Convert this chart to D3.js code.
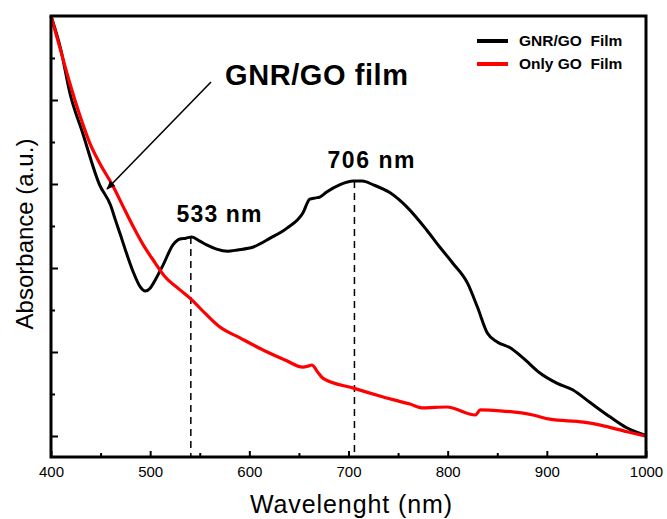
<!DOCTYPE html>
<html>
<head>
<meta charset="utf-8">
<script src="https://cdn.jsdelivr.net/npm/d3@7"></script>
<style>
  body { margin: 0; background: #fff; }
  svg { display: block; font-family: Arial, "Liberation Sans", sans-serif; }
</style>
</head>
<body>
<svg id="chart" width="667" height="519"></svg>
<script>
// Wavelength (nm) and absorbance (a.u.)
const gnrWavelength = [400,410,419,432,449,460,465,470,475,483,490,495,500,505,513,523,530,536,542,550,557,567,578,588,604,621,638,654,661,667,671,678,691,705,714,725,742,759,779,792,805,820,830,840,850,863,876,893,910,926,944,964,981,999];
const gnrAbs = [1.100,1.019,0.917,0.821,0.698,0.650,0.614,0.579,0.543,0.490,0.455,0.445,0.452,0.471,0.507,0.555,0.569,0.571,0.574,0.564,0.555,0.545,0.540,0.543,0.550,0.571,0.595,0.631,0.664,0.667,0.669,0.681,0.698,0.707,0.707,0.698,0.679,0.645,0.590,0.550,0.512,0.464,0.407,0.345,0.324,0.310,0.286,0.250,0.226,0.210,0.179,0.145,0.119,0.102];

const goWavelength = [400,409,419,429,439,449,463,473,483,493,503,515,530,542,555,570,591,618,636,654,660,663,669,674,705,735,762,775,799,828,833,853,886,903,937,954,981,999];
const goAbs = [1.100,1.024,0.940,0.864,0.798,0.750,0.693,0.645,0.598,0.555,0.519,0.479,0.448,0.424,0.393,0.360,0.333,0.300,0.281,0.264,0.267,0.269,0.252,0.238,0.214,0.193,0.176,0.167,0.169,0.150,0.162,0.160,0.150,0.140,0.133,0.126,0.110,0.100];

const xTicks = [400,500,600,700,800,900,1000];
const xMinorTicks = [450,550,650,750,850,950];
const yMajorTicks = [0.1,0.3,0.5,0.7,0.9];
const yMinorTicks = [0.2,0.4,0.6,0.8,1.0];

const peakWavelengths = [541, 706];
const peakAbs = [0.574, 0.707];
const peakLabels = ["533 nm", "706 nm"];

const seriesNames = ["GNR/GO  Film", "Only GO  Film"];
const seriesColors = ["#000000", "#ff0000"];

const svg = d3.select("#chart");
const L = 51, R = 646, T = 16, B = 457;
const x = d3.scaleLinear().domain([400, 1000]).range([L, R]);
const y = d3.scaleLinear().domain([0.05, 1.10]).range([B, T]);

// Axes (inward ticks)
const xMajor = svg.append("g").attr("transform", `translate(0,${B})`)
  .call(d3.axisBottom(x).tickValues(xTicks).tickSize(-6).tickPadding(9).tickFormat(d3.format("d")));
xMajor.select(".domain").remove();
xMajor.selectAll(".tick line").attr("stroke", "#000").attr("stroke-width", 2);
xMajor.selectAll(".tick text").attr("font-size", 15).attr("font-family", "Arial, 'Liberation Sans', sans-serif").attr("fill", "#000");

const xMin = svg.append("g").attr("transform", `translate(0,${B})`)
  .call(d3.axisBottom(x).tickValues(xMinorTicks).tickSize(-4).tickFormat(""));
xMin.select(".domain").remove();
xMin.selectAll(".tick line").attr("stroke", "#000").attr("stroke-width", 2);

const yMaj = svg.append("g").attr("transform", `translate(${L},0)`)
  .call(d3.axisLeft(y).tickValues(yMajorTicks).tickSize(-7).tickFormat(""));
yMaj.select(".domain").remove();
yMaj.selectAll(".tick line").attr("stroke", "#000").attr("stroke-width", 2);

const yMin = svg.append("g").attr("transform", `translate(${L},0)`)
  .call(d3.axisLeft(y).tickValues(yMinorTicks).tickSize(-4).tickFormat(""));
yMin.select(".domain").remove();
yMin.selectAll(".tick line").attr("stroke", "#000").attr("stroke-width", 2);

// Dashed peak lines
peakWavelengths.forEach((w, i) => {
  svg.append("line")
    .attr("x1", x(w)).attr("x2", x(w))
    .attr("y1", y(peakAbs[i])).attr("y2", B)
    .attr("stroke", "#000").attr("stroke-width", 1.5)
    .attr("stroke-dasharray", "7,5");
});

// Curves
const line = d3.line().x(d => x(d[0])).y(d => y(d[1])).curve(d3.curveMonotoneX);
const goData = goWavelength.map((w, i) => [w, goAbs[i]]);
const gnrData = gnrWavelength.map((w, i) => [w, gnrAbs[i]]);

svg.append("path").datum(gnrData).attr("d", line)
  .attr("fill", "none").attr("stroke", seriesColors[0]).attr("stroke-width", 3).attr("stroke-linejoin", "round");
svg.append("path").datum(goData).attr("d", line)
  .attr("fill", "none").attr("stroke", seriesColors[1]).attr("stroke-width", 3.2).attr("stroke-linejoin", "round");

// Frame
svg.append("rect").attr("x", L).attr("y", T).attr("width", R - L).attr("height", B - T)
  .attr("fill", "none").attr("stroke", "#000").attr("stroke-width", 3);

// Peak labels
svg.append("text").attr("x", 219).attr("y", 222).attr("text-anchor", "middle")
  .attr("font-size", 23).attr("font-weight", "bold").attr("textLength", 85).text(peakLabels[0]);
svg.append("text").attr("x", 371).attr("y", 168).attr("text-anchor", "middle")
  .attr("font-size", 23).attr("font-weight", "bold").attr("textLength", 87).text(peakLabels[1]);

// Annotation with arrow
svg.append("defs").append("marker")
  .attr("id", "arrow").attr("viewBox", "0 0 10 10").attr("refX", 9).attr("refY", 5)
  .attr("markerWidth", 9).attr("markerHeight", 9).attr("markerUnits", "userSpaceOnUse")
  .attr("orient", "auto")
  .append("path").attr("d", "M0,1 L10,5 L0,9 Z").attr("fill", "#000");
svg.append("line").attr("x1", 211).attr("y1", 82).attr("x2", 107).attr("y2", 189)
  .attr("stroke", "#000").attr("stroke-width", 1.6).attr("marker-end", "url(#arrow)");
svg.append("text").attr("x", 225).attr("y", 85)
  .attr("font-size", 29).attr("font-weight", "bold").attr("textLength", 183).text("GNR/GO film");

// Legend
seriesNames.forEach((name, i) => {
  const ly = 41 + i * 23;
  svg.append("line").attr("x1", 477).attr("x2", 508).attr("y1", ly).attr("y2", ly)
    .attr("stroke", seriesColors[i]).attr("stroke-width", 4);
  svg.append("text").attr("x", 519).attr("y", ly + 5)
    .attr("font-size", 15.5).attr("font-weight", "bold")
    .style("white-space", "pre").text(name);
});

// Axis titles
svg.append("text").attr("x", 351).attr("y", 513).attr("text-anchor", "middle")
  .attr("font-size", 25).attr("textLength", 202).text("Wavelenght (nm)");
svg.append("text").attr("transform", "translate(33,234) rotate(-90)").attr("text-anchor", "middle")
  .attr("font-size", 24).text("Absorbance (a.u.)");
</script>
</body>
</html>
